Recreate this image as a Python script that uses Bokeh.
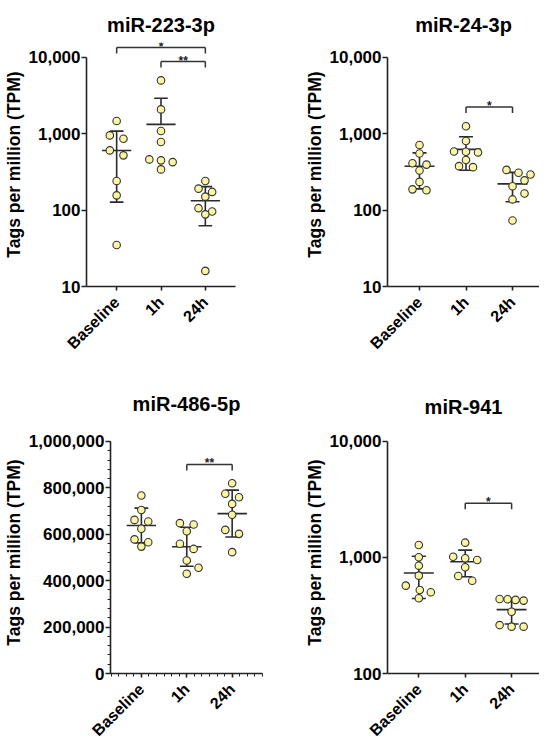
import math
from bokeh.plotting import figure
from bokeh.layouts import column, row
from bokeh.models import Range1d, FixedTicker, NumeralTickFormatter, Label
from bokeh.embed import file_html
from bokeh.resources import INLINE

# ---------------- data ----------------
categories = ["Baseline", "1h", "24h"]
y_label = "Tags per million (TPM)"

mir223_baseline = [1465, 951, 860, 605, 521, 240, 156, 35]
mir223_1h = [4990, 2080, 1083, 778, 461, 448, 425, 341]
mir223_24h = [240, 191, 173, 150, 106, 96, 88, 16]

mir24_baseline = [713, 552, 410, 394, 330, 234, 187, 182]
mir24_1h = [1254, 803, 586, 580, 569, 453, 376, 365]
mir24_24h = [336, 308, 292, 245, 205, 165, 138, 73]

mir486_baseline = [767000, 705000, 662000, 655000, 624000, 578000, 566000, 547000]
mir486_1h = [648000, 642000, 613000, 559000, 537000, 487000, 456000, 430000]
mir486_24h = [820000, 775000, 760000, 731000, 684000, 619000, 602000, 523000]

mir941_baseline = [1276, 1000, 847, 695, 570, 523, 500, 444]
mir941_1h = [1336, 1012, 980, 948, 820, 690, 629]
mir941_24h = [438, 435, 430, 424, 340, 261, 253, 253]

# significance brackets: (group a, group b, label, bracket level in TPM)
mir223_sig = [(0, 2, "*", 13400), (1, 2, "**", 8790)]
mir24_sig = [(1, 2, "*", 2230)]
mir486_sig = [(1, 2, "**", 901000)]
mir941_sig = [(1, 2, "*", 2920)]

log_ticks = [10, 100, 1000, 10000]
log_ticks_941 = [100, 1000, 10000]
lin_ticks = [0, 200000, 400000, 600000, 800000, 1000000]

# ---------------- styling ----------------
FONT = "Liberation Sans"
FILL = "#FBF6A2"
INK = "#222222"


def mapper(log, y0, y1, h):
    f = math.log10 if log else (lambda v: v)
    a, b = f(y0), f(y1)

    def to_px(v):
        return (f(v) - a) / (b - a) * h

    def from_px(px):
        t = a + px / h * (b - a)
        return 10 ** t if log else t

    return to_px, from_px


def swarm(vals, to_px, d=6.5, tol=5.5, pair=7.0, spread=12.0):
    ys = [to_px(v) for v in vals]
    order = sorted(range(len(vals)), key=lambda i: -ys[i])
    rows = []
    for i in order:
        if rows and ys[rows[-1][0]] - ys[i] < tol:
            rows[-1].append(i)
        else:
            rows.append([i])
    offs = [0.0] * len(vals)
    placed = []
    for rw in reversed(rows):
        n = len(rw)
        if n == 1:
            base = [0.0]
            shifts = [0.0, spread, -spread, 2 * spread, -2 * spread]
        elif n == 2:
            base = [-pair, pair]
            shifts = [0.0, spread / 2, -spread / 2, spread, -spread]
        else:
            base = [-spread + 2 * spread * k / (n - 1) for k in range(n)]
            shifts = [0.0, spread / 2, -spread / 2, spread, -spread]

        def fits(s):
            return all(math.hypot(b + s - px, ys[i] - py) >= d
                       for i, b in zip(rw, base) for (px, py) in placed)

        s = next((s for s in shifts if fits(s)), 0.0)
        for i, b in zip(rw, base):
            offs[i] = b + s
            placed.append((b + s, ys[i]))
    return offs


def build(title, groups, sig, log, y_range, bounds, ticks, x_range, width, height,
          mb_left, mb_right, mb_top, mb_bottom, title_standoff, minor_x=(), minor_y=()):
    frame_w = width - mb_left - mb_right
    frame_h = height - mb_top - mb_bottom
    ppu = frame_w / (x_range[1] - x_range[0])
    to_px, from_px = mapper(log, y_range[0], y_range[1], frame_h)

    p = figure(width=width, height=height,
               x_range=Range1d(*x_range), y_range=Range1d(*y_range),
               y_axis_type="log" if log else "linear",
               output_backend="svg", toolbar_location=None,
               min_border_left=mb_left, min_border_right=mb_right,
               min_border_top=mb_top, min_border_bottom=mb_bottom)
    p.xgrid.visible = False
    p.ygrid.visible = False
    p.outline_line_color = None
    p.background_fill_color = "white"
    p.border_fill_color = "white"

    p.title.text = title
    p.title.align = "center"
    p.title.vertical_align = "middle"
    p.title.text_font = FONT
    p.title.text_font_style = "bold"
    p.title.text_font_size = "20px"
    p.title.text_color = "black"
    p.title.standoff = title_standoff

    yax = p.yaxis[0]
    yax.ticker = FixedTicker(ticks=ticks, minor_ticks=list(minor_y))
    yax.formatter = NumeralTickFormatter(format="0,0")
    yax.bounds = bounds
    yax.axis_label = y_label
    yax.axis_label_text_font = FONT
    yax.axis_label_text_font_style = "bold"
    yax.axis_label_text_font_size = "17.5px"
    yax.axis_label_text_color = "black"
    yax.axis_label_standoff = 2
    yax.major_label_text_font = FONT
    yax.major_label_text_font_style = "bold"
    yax.major_label_text_font_size = "17px"
    yax.major_label_text_color = "black"
    yax.major_label_standoff = 1
    yax.major_tick_out = 5
    yax.major_tick_in = 0
    yax.minor_tick_out = 3
    yax.minor_tick_in = 0
    yax.axis_line_width = 1.6
    yax.axis_line_color = INK
    yax.major_tick_line_color = INK
    yax.major_tick_line_width = 1.6
    yax.minor_tick_line_color = INK

    xax = p.xaxis[0]
    xax.ticker = FixedTicker(ticks=[1, 2, 3], minor_ticks=list(minor_x))
    xax.major_label_overrides = {i + 1: c for i, c in enumerate(categories)}
    xax.major_label_orientation = math.pi / 4
    xax.major_label_text_font = FONT
    xax.major_label_text_font_style = "bold"
    xax.major_label_text_font_size = "16px"
    xax.major_label_text_color = "black"
    xax.major_label_standoff = 9
    xax.major_tick_out = 4
    xax.major_tick_in = 0
    xax.minor_tick_out = 3
    xax.minor_tick_in = 0
    xax.axis_line_width = 1.6
    xax.axis_line_color = INK
    xax.major_tick_line_color = INK
    xax.major_tick_line_width = 1.6
    xax.minor_tick_line_color = INK

    # mean +/- SD
    x0s, y0s, x1s, y1s = [], [], [], []
    mean_hw = 15 / ppu
    cap_hw = 7 / ppu
    for k, vals in enumerate(groups):
        xc = k + 1
        n = len(vals)
        m = sum(vals) / n
        sd = math.sqrt(sum((v - m) ** 2 for v in vals) / (n - 1))
        hi = m + sd
        lo = m - sd
        x0s += [xc - mean_hw, xc - cap_hw]
        x1s += [xc + mean_hw, xc + cap_hw]
        y0s += [m, hi]
        y1s += [m, hi]
        if log and lo <= y_range[0]:
            x0s.append(xc); x1s.append(xc); y0s.append(m); y1s.append(hi)
        else:
            x0s += [xc, xc - cap_hw]
            x1s += [xc, xc + cap_hw]
            y0s += [lo, lo]
            y1s += [hi, lo]
    p.segment(x0=x0s, y0=y0s, x1=x1s, y1=y1s, line_color="#2b2b2b", line_width=1.6)

    # points (swarm layout)
    xs, ys = [], []
    for k, vals in enumerate(groups):
        offs = swarm(vals, to_px)
        xs += [k + 1 + o / ppu for o in offs]
        ys += list(vals)
    p.scatter(x=xs, y=ys, size=7.5, fill_color=FILL, line_color="#333333", line_width=1.1)

    # significance brackets
    bx0, by0, bx1, by1 = [], [], [], []
    for a, b, lab, lvl in sig:
        xa, xb = a + 1, b + 1
        low = from_px(to_px(lvl) - 6)
        bx0 += [xa, xa, xb]; bx1 += [xb, xa, xb]
        by0 += [lvl, lvl, lvl]; by1 += [lvl, low, low]
        p.add_layout(Label(x=(xa + xb) / 2, y=from_px(to_px(lvl) + 1), text=lab,
                           text_font=FONT, text_font_style="bold", text_font_size="12px",
                           text_align="center", text_baseline="alphabetic",
                           text_color="#222222"))
    p.segment(x0=bx0, y0=by0, x1=bx1, y1=by1, line_color="#333333", line_width=1.5)
    return p


p1 = build("miR-223-3p", [mir223_baseline, mir223_1h, mir223_24h], mir223_sig, True,
           (10, 15630), (10, 10000), log_ticks, (0.32, 3.68),
           265, 363, 82, 30, 42, 77, 12)
p2 = build("miR-24-3p", [mir24_baseline, mir24_1h, mir24_24h], mir24_sig, True,
           (10, 15630), (10, 10000), log_ticks, (0.312, 3.58),
           274, 363, 122, 0, 42, 77, 12)
p3 = build("miR-486-5p", [mir486_baseline, mir486_1h, mir486_24h], mir486_sig, False,
           (0, 1043100), (0, 1000000), lin_ticks, (0.32, 3.668),
           265, 386, 107, 3, 68, 76, 32,
           minor_x=[k / 6 for k in range(2, 23)],
           minor_y=[i * 40000 for i in range(26)])
p4 = build("miR-941", [mir941_baseline, mir941_1h, mir941_24h], mir941_sig, True,
           (100, 12090), (100, 10000), log_ticks_941, (0.325, 3.601),
           274, 386, 122, 0, 68, 76, 26)

layout = column(row(p1, p2), row(p3, p4))

with open("out.html", "w") as fh:
    fh.write(file_html(layout, INLINE))
